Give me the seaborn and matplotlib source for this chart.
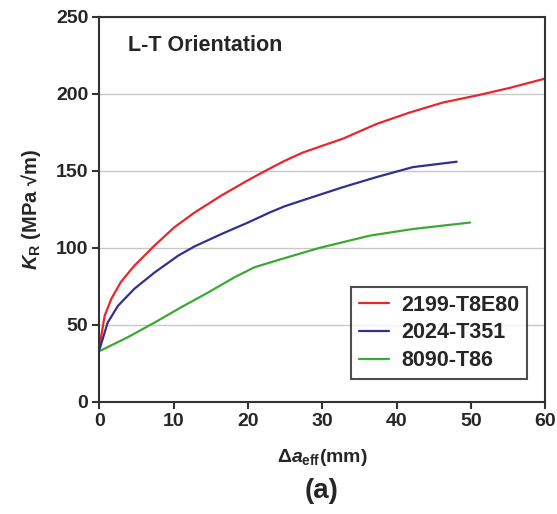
import pandas as pd
import seaborn as sns
import matplotlib.pyplot as plt

# crack extension (mm) and K_R values
x_2199 = [0, 0.7, 1.6, 2.9, 4.7, 7.4, 10.1, 12.8, 16.4, 20, 22.7, 24.9, 27.4, 32.8,
          37.3, 41.8, 46.3, 50.8, 55.3, 60]
k_2199 = [36, 56, 67, 78, 88.5, 101.5, 113.5, 123, 134, 144, 151, 156.5, 162, 171,
          180.5, 188, 194.5, 199, 204, 210]

x_2024 = [0, 1.1, 2.5, 4.7, 7.4, 10.6, 12.8, 16.4, 20, 22.9, 24.9, 27.4, 32.8, 37.3,
          42.2, 48.1]
k_2024 = [34, 51.5, 62.5, 73.5, 84, 95, 101, 109, 116.5, 123, 127, 131, 139.5, 146,
          152.5, 156]

x_8090 = [0, 3.8, 7.4, 11, 14.6, 18.2, 20.9, 24.3, 29.6, 36.4, 42.2, 44.4, 49.9]
k_8090 = [33, 42, 51.5, 61.5, 71, 81, 87.5, 92.5, 100, 108, 112.3, 113.5, 116.5]

alloys = ["2199-T8E80", "2024-T351", "8090-T86"]
colors = ["#e8262b", "#2e3192", "#3aaa35"]

df = pd.concat([
    pd.DataFrame({"da": x_2199, "KR": k_2199, "alloy": alloys[0]}),
    pd.DataFrame({"da": x_2024, "KR": k_2024, "alloy": alloys[1]}),
    pd.DataFrame({"da": x_8090, "KR": k_8090, "alloy": alloys[2]}),
])

sns.set_style("ticks")
plt.rcParams['font.family'] = ['Liberation Sans', 'DejaVu Sans']
plt.rcParams['font.weight'] = 'bold'
plt.rcParams['mathtext.fontset'] = 'custom'
plt.rcParams['mathtext.rm'] = 'Liberation Sans:bold'
plt.rcParams['mathtext.it'] = 'Liberation Sans:italic:bold'
plt.rcParams['mathtext.bf'] = 'Liberation Sans:bold'

fig = plt.figure(figsize=(5.57, 5.14), dpi=100)
ax = fig.add_axes([0.1786, 0.218, 0.8, 0.749])

sns.lineplot(data=df, x="da", y="KR", hue="alloy", palette=colors,
             sort=False, estimator=None, linewidth=1.6, ax=ax)

ax.set_xlim(0, 60)
ax.set_ylim(0, 250)
ax.set_xticks(range(0, 61, 10))
ax.set_yticks(range(0, 251, 50))
ax.yaxis.grid(True, color="#c8c8c8", linewidth=1)
ax.set_axisbelow(True)
for s in ax.spines.values():
    s.set_color("#333333")
    s.set_linewidth(1.5)
ax.tick_params(direction="out", length=5, width=1.5, color="#333333",
               labelsize=14, pad=3)
for lab in ax.get_xticklabels() + ax.get_yticklabels():
    lab.set_fontweight("bold")

ax.set_xlabel(r"$\Delta a_{\mathrm{eff}}$(mm)", fontsize=14, fontweight="bold", labelpad=12)
ax.set_ylabel(r"$K_{\mathrm{R}}$ (MPa √m)", fontsize=14.5, fontweight="bold", labelpad=9)
ax.text(0.065, 0.925, "L-T Orientation", transform=ax.transAxes,
        fontsize=15.5, fontweight="bold", va="center")
fig.text(0.578, 0.045, "(a)", fontsize=20, fontweight="bold", ha="center", va="center")

leg = ax.legend(loc="lower right", bbox_to_anchor=(0.96, 0.06), fontsize=15.5,
                frameon=True, fancybox=False, handlelength=1.4, labelspacing=0.32,
                borderpad=0.35, handletextpad=0.6, borderaxespad=0)
leg.get_frame().set_edgecolor("#222222")
leg.get_frame().set_linewidth(1.5)
for t in leg.get_texts():
    t.set_fontweight("bold")

fig.savefig("out.png", dpi=100)
